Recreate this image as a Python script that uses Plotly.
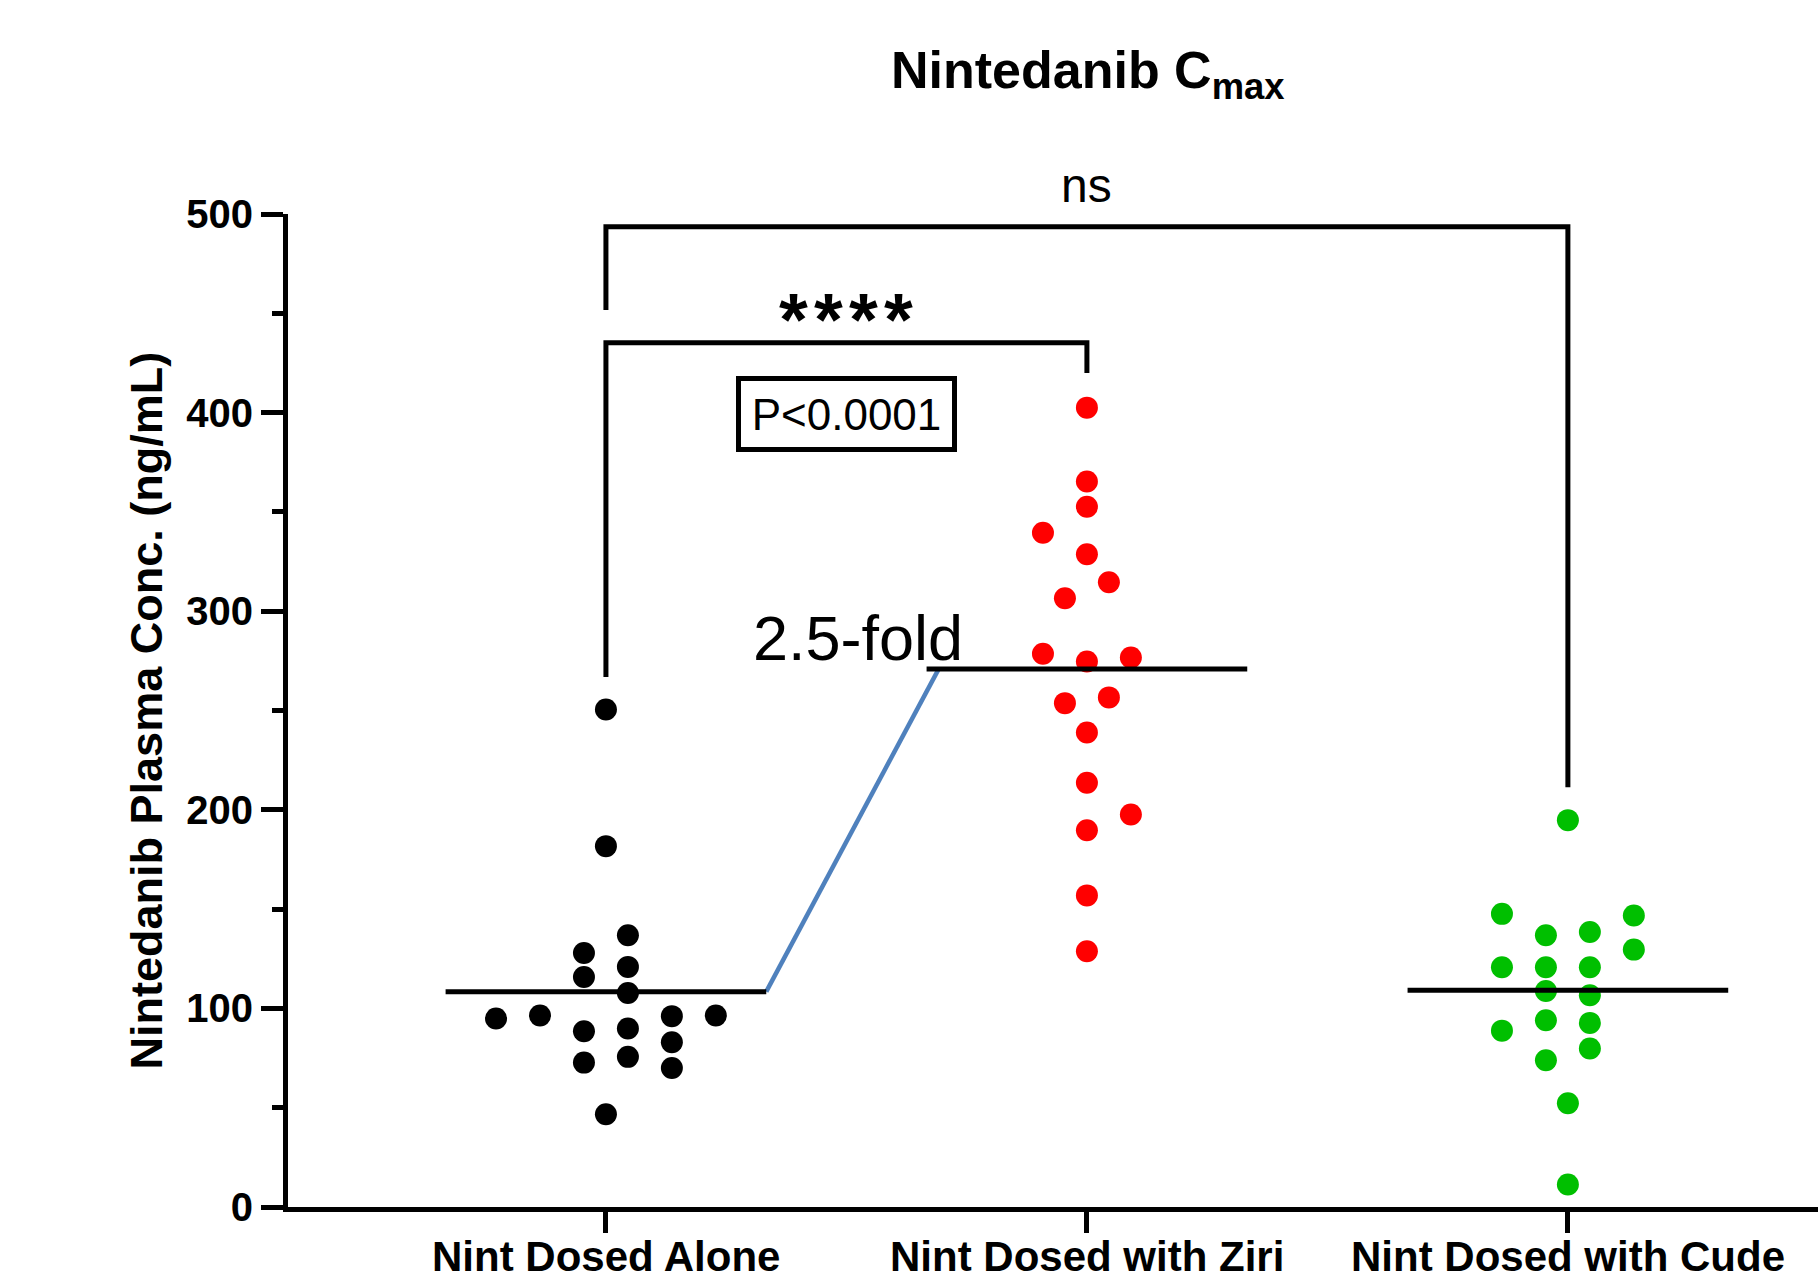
import numpy as np
import plotly.graph_objects as go

# ---------------- data ----------------
categories = ["Nint Dosed Alone", "Nint Dosed with Ziri", "Nint Dosed with Cude"]

alone_values = [250.5, 181.7, 136.8, 127.9, 120.9, 115.8, 107.8, 94.9, 96.4,
                96.1, 96.4, 88.5, 89.9, 83.0, 75.6, 72.7, 70.0, 46.7]
alone_cols = [0, 0, 1, -1, 1, -1, 1, -5, -3, 3, 5, -1, 1, 3, 1, -1, 3, 0]

ziri_values = [402.5, 365.3, 352.6, 339.5, 328.7, 314.6, 306.5, 278.6, 274.7,
               276.7, 253.7, 256.6, 238.9, 213.6, 197.6, 189.7, 156.9, 128.8]
ziri_cols = [0, 0, 0, -2, 0, 1, -1, -2, 0, 2, -1, 1, 0, 0, 2, 0, 0, 0]

cude_values = [194.8, 147.6, 146.8, 138.5, 136.8, 129.6, 120.7, 120.7, 120.7,
               108.8, 106.6, 88.8, 94.0, 92.7, 79.8, 73.9, 52.2, 11.3]
cude_cols = [0, -3, 3, 1, -1, 3, -3, -1, 1, -1, 1, -3, -1, 1, 1, -1, 0, 0]

colors = ["#000000", "#FF0000", "#00BF00"]

y_ticks = [0, 100, 200, 300, 400, 500]

# significance brackets: (group a, group b, bar level, leg end a, leg end b, label)
brackets = [
    (0, 2, 493.6, 451.6, 211.4, "ns"),
    (0, 1, 435.2, 266.9, 419.9, "****"),
]
p_text = "P<0.0001"
fold_text = "2.5-fold"
title_text = "<b>Nintedanib C<sub>max</sub></b>"
y_title = "Nintedanib Plasma Conc. (ng/mL)"

# ---------------- styling ----------------
FONT = "Liberation Sans, Arial, Helvetica, sans-serif"
COL_STEP = 0.0457      # swarm column spacing in category units
HALF_W = 1 / 3         # half width of mean line
LW = 5

groups = [
    (alone_values, alone_cols),
    (ziri_values, ziri_cols),
    (cude_values, cude_cols),
]

fig = go.Figure()

means = []
for i, (vals, cols) in enumerate(groups):
    xs = [i + c * COL_STEP for c in cols]
    fig.add_trace(go.Scatter(
        x=xs, y=vals, mode="markers",
        marker=dict(size=22, color=colors[i], line=dict(width=0)),
        cliponaxis=False, showlegend=False, hoverinfo="y",
    ))
    means.append(float(np.mean(vals)))

# blue connector between the first two means
fig.add_trace(go.Scatter(
    x=[0 + HALF_W, 1 - HALF_W + 0.025], y=[means[0], means[1]],
    mode="lines", line=dict(color="#4F81BD", width=4.5),
    showlegend=False, hoverinfo="skip", cliponaxis=False,
))

# mean lines
for i, m in enumerate(means):
    fig.add_trace(go.Scatter(
        x=[i - HALF_W, i + HALF_W], y=[m, m], mode="lines",
        line=dict(color="black", width=LW),
        showlegend=False, hoverinfo="skip", cliponaxis=False,
    ))

# brackets
for a, b, lvl, ea, eb, lab in brackets:
    fig.add_trace(go.Scatter(
        x=[a, a, b, b], y=[ea, lvl, lvl, eb], mode="lines",
        line=dict(color="black", width=LW),
        showlegend=False, hoverinfo="skip", cliponaxis=False,
    ))

stars = "\u200a".join(brackets[1][5])

annotations = [
    dict(text=brackets[0][5], x=(brackets[0][0] + brackets[0][1]) / 2, y=1.0286,
         xref="x", yref="paper", xanchor="center", yanchor="middle",
         showarrow=False, font=dict(family=FONT, size=48, color="black")),
    dict(text=stars, x=(brackets[1][0] + brackets[1][1]) / 2, y=447,
         xref="x", yref="y", xanchor="center", yanchor="middle", showarrow=False,
         font=dict(family=FONT, size=74, color="black", weight="bold")),
    dict(text=p_text, x=0.5, y=399.3, xref="x", yref="y", showarrow=False,
         xanchor="center", yanchor="middle",
         font=dict(family=FONT, size=44, color="black"),
         bordercolor="black", borderwidth=5, borderpad=8, width=195, height=50),
    dict(text=fold_text, x=0.524, y=286.6, xref="x", yref="y", showarrow=False,
         xanchor="center", yanchor="middle",
         font=dict(family=FONT, size=63, color="black")),
    dict(text=title_text, x=0.5229, y=1.1414, xref="paper", yref="paper",
         xanchor="center", yanchor="middle",
         showarrow=False, font=dict(family=FONT, size=52, color="black")),
    dict(text=y_title, x=-0.0922, y=0.5, xref="paper", yref="paper",
         xanchor="center", yanchor="middle",
         textangle=-90, showarrow=False,
         font=dict(family=FONT, size=45, color="black", weight="bold")),
]

# category labels under the x ticks
for i, cat in enumerate(categories):
    annotations.append(dict(
        text=cat, x=i, y=-0.050, xref="x", yref="paper",
        xanchor="center", yanchor="middle", showarrow=False,
        font=dict(family=FONT, size=42, color="black", weight="bold"),
    ))

fig.update_layout(
    width=1818, height=1280,
    margin=dict(l=288, r=0, t=214, b=73),
    paper_bgcolor="white", plot_bgcolor="white",
    annotations=annotations,
    showlegend=False,
)

fig.update_xaxes(
    range=[-0.661, 2.520],
    tickmode="array", tickvals=[0, 1, 2], ticktext=["", "", ""],
    showticklabels=False,
    ticks="outside", ticklen=21, tickwidth=LW, tickcolor="black",
    showline=True, linewidth=LW, linecolor="black",
    showgrid=False, zeroline=False, automargin=False,
)
fig.update_yaxes(
    range=[0, 500],
    tickmode="array", tickvals=y_ticks,
    ticks="outside", ticklen=22, tickwidth=LW, tickcolor="black",
    minor=dict(dtick=50, ticks="outside", ticklen=11, tickwidth=LW, tickcolor="black"),
    tickfont=dict(family=FONT, size=40, color="black", weight="bold"),
    showline=True, linewidth=LW, linecolor="black",
    showgrid=False, zeroline=False, automargin=False,
)

fig.write_html("out.html")
